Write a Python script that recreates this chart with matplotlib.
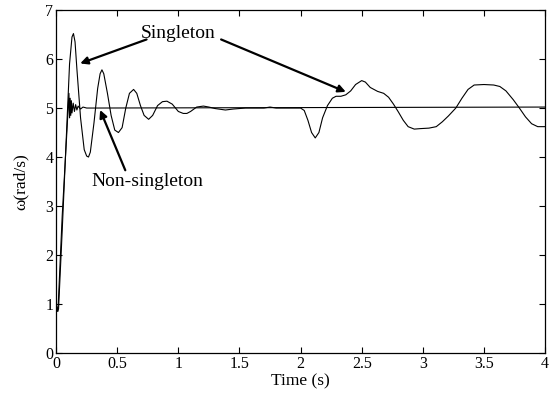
import matplotlib
matplotlib.use("Agg")
import matplotlib.pyplot as plt

plt.rcParams['font.family'] = ['Liberation Serif', 'DejaVu Serif']

# Singleton response
t_single = [0.0, 0.01, 0.02, 0.05, 0.08, 0.11, 0.13, 0.142, 0.155, 0.17, 0.2, 0.23, 0.25, 0.265,
            0.28, 0.31, 0.34, 0.36, 0.375, 0.39, 0.42, 0.45, 0.48, 0.51, 0.54, 0.57, 0.6, 0.634,
            0.66, 0.69, 0.72, 0.757, 0.79, 0.83, 0.87, 0.907, 0.95, 1.0, 1.04, 1.07, 1.1, 1.15,
            1.205, 1.25, 1.3, 1.385, 1.45, 1.55, 1.7, 1.75, 1.8, 2.0,
            2.03, 2.06, 2.09, 2.12, 2.15, 2.18, 2.22, 2.26, 2.29, 2.33, 2.37, 2.41, 2.45, 2.5,
            2.53, 2.57, 2.63, 2.68, 2.72, 2.76, 2.8, 2.84, 2.88, 2.93, 2.98, 3.05, 3.11, 3.16,
            3.21, 3.27, 3.32, 3.37, 3.42, 3.5, 3.58, 3.63, 3.68, 3.74, 3.79, 3.84, 3.89, 3.94, 4.0]
y_single = [1.0, 0.85, 0.9, 2.5, 4.2, 5.9, 6.45, 6.52, 6.35, 5.8, 4.8, 4.15, 4.02, 4.0,
            4.1, 4.7, 5.4, 5.7, 5.78, 5.7, 5.3, 4.85, 4.55, 4.5, 4.6, 5.0, 5.3, 5.38,
            5.3, 5.05, 4.85, 4.77, 4.85, 5.05, 5.13, 5.14, 5.08, 4.93, 4.89, 4.89, 4.93, 5.02,
            5.04, 5.02, 4.99, 4.96, 4.98, 5.0, 5.0, 5.02, 5.0, 5.0,
            4.95, 4.75, 4.5, 4.39, 4.5, 4.8, 5.05, 5.2, 5.24, 5.24, 5.27, 5.35, 5.48, 5.56,
            5.53, 5.42, 5.34, 5.3, 5.22, 5.08, 4.92, 4.75, 4.62, 4.57, 4.58, 4.59, 4.62, 4.72,
            4.84, 5.0, 5.2, 5.38, 5.47, 5.48, 5.47, 5.44, 5.35, 5.17, 5.0, 4.82, 4.68, 4.62, 4.62]

# Non-singleton response
t_non = [0.0, 0.015, 0.05, 0.09, 0.105, 0.11, 0.115, 0.12, 0.125, 0.13, 0.14, 0.15, 0.16,
         0.17, 0.18, 0.2, 0.22, 0.25, 0.3, 4.0]
y_non = [1.0, 0.85, 2.8, 4.6, 5.3, 4.8, 5.2, 4.85, 5.15, 4.9, 5.1, 4.93, 5.07,
         4.96, 5.04, 4.98, 5.02, 5.0, 5.0, 5.02]

x_ticks = [0, 0.5, 1, 1.5, 2, 2.5, 3, 3.5, 4]
x_ticklabels = ['0', '0.5', '1', '1.5', '2', '2.5', '3', '3.5', '4']
y_ticks = [0, 1, 2, 3, 4, 5, 6, 7]

fig = plt.figure(figsize=(5.5, 3.96), dpi=100)
ax = fig.add_axes([0.102, 0.1086, 0.889, 0.866])

ax.plot(t_non, y_non, color='black', lw=0.8)
ax.plot(t_single, y_single, color='black', lw=0.8)

ax.set_xlim(0, 4)
ax.set_ylim(0, 7)
ax.set_xticks(x_ticks)
ax.set_xticklabels(x_ticklabels)
ax.set_yticks(y_ticks)
ax.tick_params(direction='in', top=True, right=True, labelsize=11.5, length=4, width=0.8, pad=2)
for s in ax.spines.values():
    s.set_linewidth(0.9)

ax.set_xlabel('Time (s)', fontsize=12.5, labelpad=1)
ax.set_ylabel('ω(rad/s)', fontsize=12.5, labelpad=12)

arrow = dict(arrowstyle='-|>', lw=1.6, color='black', mutation_scale=11, shrinkA=0, shrinkB=0)
ax.text(1.0, 6.53, 'Singleton', fontsize=14, ha='center', va='center')
ax.annotate('', xy=(0.197, 5.91), xytext=(0.74, 6.4), arrowprops=arrow)
ax.annotate('', xy=(2.37, 5.33), xytext=(1.35, 6.4), arrowprops=arrow)
ax.text(0.75, 3.5, 'Non-singleton', fontsize=14, ha='center', va='center')
ax.annotate('', xy=(0.36, 4.96), xytext=(0.566, 3.73), arrowprops=arrow)

fig.savefig('out.png', dpi=100)
